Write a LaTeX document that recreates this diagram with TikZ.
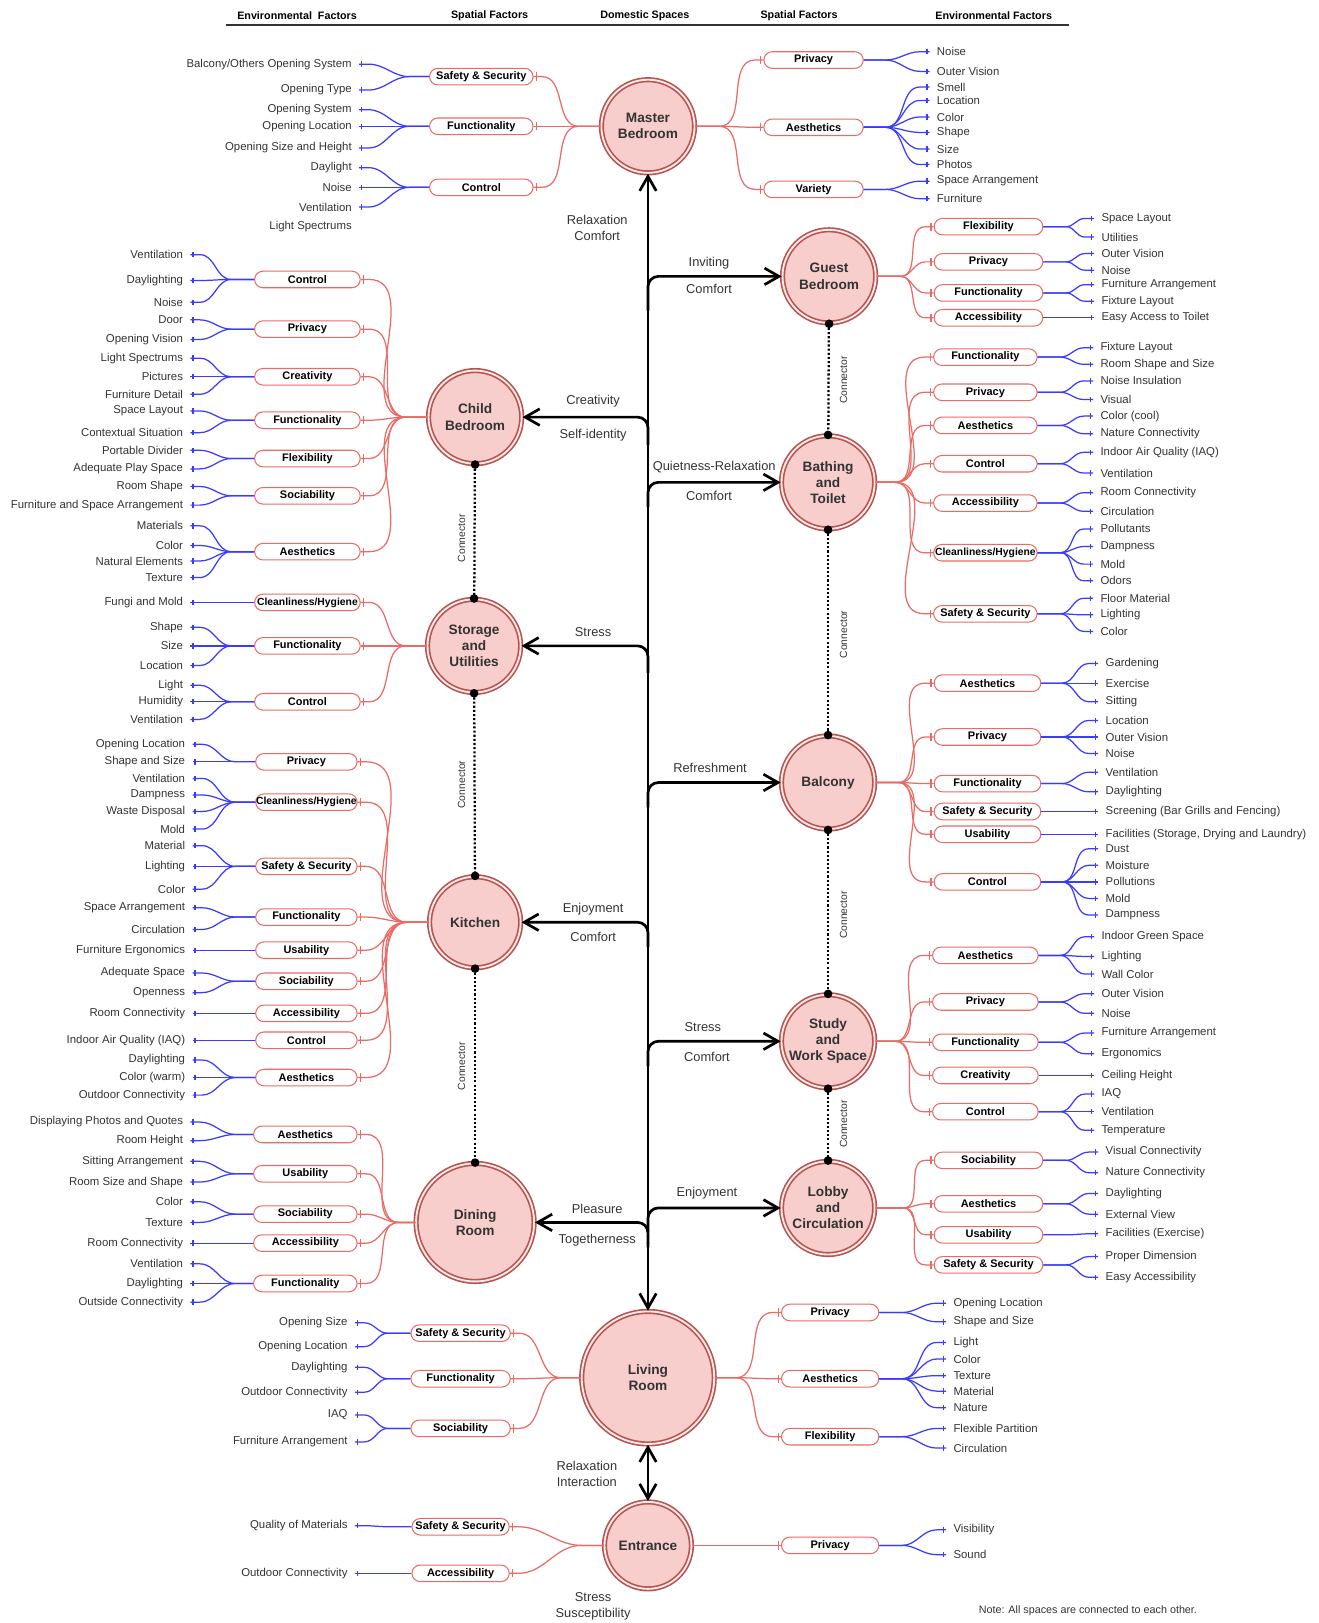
\documentclass[tikz,border=0pt]{standalone}
\usepackage{fontspec}
\setmainfont{Liberation Sans}
\usetikzlibrary{arrows.meta,calc,decorations.markings}
\definecolor{txt}{HTML}{333333}
\definecolor{redl}{HTML}{EA6B66}
\definecolor{bluel}{HTML}{3B3BFF}
\definecolor{cfill}{HTML}{F8CECC}
\definecolor{cdraw}{HTML}{B85450}
\tikzset{
  spc/.style={circle, fill=cfill, draw=cdraw, line width=0.8pt, double=cfill!40!white, double distance=0.9pt, inner sep=0pt, align=center, text=txt, font=\fontsize{6.6}{7.8}\selectfont\bfseries},
  sbox/.style={draw=redl, fill=white, rounded corners=4pt, minimum height=8pt, inner sep=0pt, line width=0.5pt, font=\fontsize{5.3}{6}\selectfont\bfseries, text=black},
  envL/.style={anchor=east, inner xsep=3.4pt, inner ysep=0.5pt, font=\fontsize{5.5}{6.5}\selectfont, text=txt},
  envR/.style={envL, anchor=west},
  bluc/.style={draw=bluel, line width=0.6pt, decoration={markings, mark=at position -1.2pt with {\draw[bluel,line width=0.6pt] (0pt,-1.3pt) -- (0pt,1.3pt);}}, postaction={decorate}},
  redc/.style={draw=redl, line width=0.6pt, decoration={markings, mark=at position -1.3pt with {\draw[redl,line width=0.6pt] (0pt,-2pt) -- (0pt,2pt);}}, postaction={decorate}},
  spn/.style={draw=black, line width=1.3pt},
  dotc/.style={draw=black, line width=1.1pt, dash pattern=on 1pt off 1pt},
  lbl/.style={font=\fontsize{6.2}{7.5}\selectfont, text=txt, inner sep=1pt, align=center},
  hdr/.style={font=\fontsize{5.2}{6}\selectfont\bfseries, text=black},
  cnl/.style={font=\fontsize{5}{6}\selectfont, text=txt, rotate=90, inner sep=0.5pt},
}
\newcommand\grpL[4]{\foreach \envy/\envtxt [count=\envk] in {#4}{\node[envL] (#1e\envk) at (#3,\envy) {\envtxt}; \draw[bluc] (#1.west) -- ++(-#2,0) to[out=180,in=0] ($(#1e\envk.east)+(9,0)$) -- (#1e\envk.east);}}
\newcommand\grpR[4]{\foreach \envy/\envtxt [count=\envk] in {#4}{\node[envR] (#1e\envk) at (#3,\envy) {\envtxt}; \draw[bluc] (#1.east) -- ++(#2,0) to[out=0,in=180] ($(#1e\envk.west)+(-9,0)$) -- (#1e\envk.west);}}
\newcommand\redL[3]{\foreach \bx in {#3}{\draw[redc] (#1.west) -- ++(-#2,0) to[out=180,in=0] ($(\bx.east)+(8,0)$) -- (\bx.east);}}
\newcommand\redR[3]{\foreach \bx in {#3}{\draw[redc] (#1.east) -- ++(#2,0) to[out=0,in=180] ($(\bx.west)+(-8,0)$) -- (\bx.west);}}
\begin{document}
\begin{tikzpicture}[x=0.5pt,y=-0.5pt,>={Straight Barb[length=7pt,width=8pt]}]
\useasboundingbox (0,0) rectangle (1274,1568);
% header
\node[hdr] (h1) at (287,15) {Environmental~ Factors};
\node[hdr] (h2) at (473,15) {Spatial Factors};
\node[hdr] (h3) at (623,15) {Domestic Spaces};
\node[hdr] (h4) at (772,15) {Spatial Factors};
\node[hdr] (h5) at (960,15) {Environmental Factors};
\coordinate (hl1) at (218,24); \coordinate (hl2) at (1033,24);
\draw[txt, line width=0.8pt] (hl1) -- (hl2);
% spaces
\node[spc, minimum size=45pt] (master) at (626,122) {Master\\Bedroom};
\node[spc, minimum size=45pt] (guest) at (801,267) {Guest\\Bedroom};
\node[spc, minimum size=45pt] (child) at (459,403) {Child\\Bedroom};
\node[spc, minimum size=45pt] (bath) at (800,466) {Bathing\\and\\Toilet};
\node[spc, minimum size=45pt] (stor) at (458,624) {Storage\\and\\Utilities};
\node[spc, minimum size=45pt] (balc) at (800,756) {Balcony};
\node[spc, minimum size=44pt] (kit) at (459,891) {Kitchen};
\node[spc, minimum size=45pt] (study) at (800,1006) {Study\\and\\Work Space};
\node[spc, minimum size=57pt] (dining) at (459,1181) {Dining\\Room};
\node[spc, minimum size=45pt] (lobby) at (800,1167) {Lobby\\and\\Circulation};
\node[spc, minimum size=64pt] (living) at (626,1331) {Living\\Room};
\node[spc, minimum size=42pt] (entr) at (626,1493) {Entrance};
% spine
\draw[spn,<->] (master) -- (living);
\draw[spn,<->] (living) -- (entr);
\coordinate (s1) at (626,300); \draw[spn,->,rounded corners=5pt] (s1) |- (guest);
\coordinate (s2) at (626,430); \draw[spn,->,rounded corners=5pt] (s2) |- (child);
\coordinate (s3) at (626,490); \draw[spn,->,rounded corners=5pt] (s3) |- (bath);
\coordinate (s4) at (626,650); \draw[spn,->,rounded corners=5pt] (s4) |- (stor);
\coordinate (s5) at (626,780); \draw[spn,->,rounded corners=5pt] (s5) |- (balc);
\coordinate (s6) at (626,915); \draw[spn,->,rounded corners=5pt] (s6) |- (kit);
\coordinate (s7) at (626,1030); \draw[spn,->,rounded corners=5pt] (s7) |- (study);
\coordinate (s8) at (626,1190); \draw[spn,->,rounded corners=5pt] (s8) |- (lobby);
\coordinate (s9) at (626,1205); \draw[spn,->,rounded corners=5pt] (s9) |- (dining);
% dotted connectors
\draw[dotc] (guest) -- (bath); \fill (guest.south) circle (2.1pt); \fill (bath.north) circle (2.1pt);
\draw[dotc] (child) -- (stor); \fill (child.south) circle (2.1pt); \fill (stor.north) circle (2.1pt);
\draw[dotc] (stor) -- (kit); \fill (stor.south) circle (2.1pt); \fill (kit.north) circle (2.1pt);
\draw[dotc] (kit) -- (dining); \fill (kit.south) circle (2.1pt); \fill (dining.north) circle (2.1pt);
\draw[dotc] (bath) -- (balc); \fill (bath.south) circle (2.1pt); \fill (balc.north) circle (2.1pt);
\draw[dotc] (balc) -- (study); \fill (balc.south) circle (2.1pt); \fill (study.north) circle (2.1pt);
\draw[dotc] (study) -- (lobby); \fill (study.south) circle (2.1pt); \fill (lobby.north) circle (2.1pt);
\node[cnl] (c1) at (815,367) {Connector};
\node[cnl] (c2) at (446,520) {Connector};
\node[cnl] (c3) at (446,758) {Connector};
\node[cnl] (c4) at (446,1030) {Connector};
\node[cnl] (c5) at (815,613) {Connector};
\node[cnl] (c6) at (815,884) {Connector};
\node[cnl] (c7) at (815,1086) {Connector};
% branch labels
\node[lbl] (t1) at (577,220) {Relaxation\\Comfort};
\node[lbl] (t2) at (685,254) {Inviting};
\node[lbl] (t3) at (685,279) {Comfort};
\node[lbl] (t4) at (573,388) {Creativity};
\node[lbl] (t5) at (573,420) {Self-identity};
\node[lbl] (t6) at (690,451) {Quietness-Relaxation};
\node[lbl] (t7) at (685,479) {Comfort};
\node[lbl] (t8) at (573,611) {Stress};
\node[lbl] (t9) at (686,742) {Refreshment};
\node[lbl] (t10) at (573,878) {Enjoyment};
\node[lbl] (t11) at (573,905) {Comfort};
\node[lbl] (t12) at (679,992) {Stress};
\node[lbl] (t13) at (683,1021) {Comfort};
\node[lbl] (t14) at (577,1168) {Pleasure};
\node[lbl] (t15) at (577,1198) {Togetherness};
\node[lbl] (t16) at (683,1153) {Enjoyment};
\node[lbl] (t17) at (567,1424) {Relaxation\\Interaction};
\node[lbl] (t18) at (573,1552) {Stress\\Susceptibility};
\node[font=\fontsize{5.2}{6}\selectfont, text=txt] (note) at (1051,1556) {Note: All spaces are connected to each other.};
% ===== Master bedroom
\node[sbox, minimum width=50pt] (mL1) at (465,74) {Safety \& Security};
\node[sbox, minimum width=50pt] (mL2) at (465,122) {Functionality};
\node[sbox, minimum width=50pt] (mL3) at (465,181) {Control};
\grpL{mL1}{19}{347}{62/{Balcony/Others Opening System},87/Opening Type}
\grpL{mL2}{19}{347}{106/Opening System,122/Opening Location,143/Opening Size and Height}
\grpL{mL3}{19}{347}{162/Daylight,181/Noise,200/Ventilation}
\node[envL] (mLx) at (347,219) {Light Spectrums};
\redL{master}{21}{mL1,mL2,mL3}
\node[sbox, minimum width=48pt] (mR1) at (786,58) {Privacy};
\node[sbox, minimum width=48pt] (mR2) at (786,123) {Aesthetics};
\node[sbox, minimum width=48pt] (mR3) at (786,183) {Variety};
\grpR{mR1}{21}{898}{50/Noise,69/Outer Vision}
\grpR{mR2}{21}{898}{84/Smell,97/Location,113/Color,128/Shape,144/Size,159/Photos}
\grpR{mR3}{21}{898}{175/Space Arrangement,192/Furniture}
\redR{master}{23}{mR1,mR2,mR3}
% ===== Guest
\node[sbox, minimum width=52.5pt] (gR1) at (955,219) {Flexibility};
\node[sbox, minimum width=52.5pt] (gR2) at (955,253) {Privacy};
\node[sbox, minimum width=52.5pt] (gR3) at (955,283) {Functionality};
\node[sbox, minimum width=52.5pt] (gR4) at (955,307) {Accessibility};
\grpR{gR1}{22}{1057}{211/Space Layout,229/Utilities}
\grpR{gR2}{22}{1057}{245/Outer Vision,261/Noise}
\grpR{gR3}{22}{1057}{275/Furniture Arrangement,291/Fixture Layout}
\grpR{gR4}{22}{1057}{307/Easy Access to Toilet}
\redR{guest}{23}{gR1,gR2,gR3,gR4}
% ===== Bathing
\node[sbox, minimum width=50pt] (bR1) at (952,345) {Functionality};
\node[sbox, minimum width=50pt] (bR2) at (952,379) {Privacy};
\node[sbox, minimum width=50pt] (bR3) at (952,411) {Aesthetics};
\node[sbox, minimum width=50pt] (bR4) at (952,448) {Control};
\node[sbox, minimum width=50pt] (bR5) at (952,486) {Accessibility};
\node[sbox, minimum width=50pt, font=\fontsize{5}{6}\selectfont\bfseries] (bR6) at (952,534) {Cleanliness/Hygiene};
\node[sbox, minimum width=50pt] (bR7) at (952,593) {Safety \& Security};
\grpR{bR1}{22}{1056}{336/Fixture Layout,352/Room Shape and Size}
\grpR{bR2}{22}{1056}{368/Noise Insulation,386/Visual}
\grpR{bR3}{22}{1056}{402/Color (cool),419/Nature Connectivity}
\grpR{bR4}{22}{1056}{437/Indoor Air Quality (IAQ),457/Ventilation}
\grpR{bR5}{22}{1056}{476/Room Connectivity,494/Circulation}
\grpR{bR6}{22}{1056}{511/Pollutants,528/Dampness,545/Mold,561/Odors}
\grpR{bR7}{22}{1056}{578/Floor Material,594/Lighting,610/Color}
\redR{bath}{19}{bR1,bR2,bR3,bR4,bR5,bR6,bR7}
% ===== Balcony
\node[sbox, minimum width=51.5pt] (baR1) at (954,660) {Aesthetics};
\node[sbox, minimum width=51.5pt] (baR2) at (954,712) {Privacy};
\node[sbox, minimum width=51.5pt] (baR3) at (954,757) {Functionality};
\node[sbox, minimum width=51.5pt] (baR4) at (954,784) {Safety \& Security};
\node[sbox, minimum width=51.5pt] (baR5) at (954,806) {Usability};
\node[sbox, minimum width=51.5pt] (baR6) at (954,852) {Control};
\grpR{baR1}{20}{1061}{641/Gardening,660/Exercise,678/Sitting}
\grpR{baR2}{20}{1061}{696/Location,712/Outer Vision,728/Noise}
\grpR{baR3}{20}{1061}{746/Ventilation,765/Daylighting}
\grpR{baR4}{20}{1061}{784/Screening (Bar Grills and Fencing)}
\grpR{baR5}{20}{1061}{806/{Facilities (Storage, Drying and Laundry)}}
\grpR{baR6}{20}{1061}{820/Dust,836/Moisture,852/Pollutions,868/Mold,884/Dampness}
\redR{balc}{22}{baR1,baR2,baR3,baR4,baR5,baR6}
% ===== Study
\node[sbox, minimum width=51pt] (sR1) at (952,923) {Aesthetics};
\node[sbox, minimum width=51pt] (sR2) at (952,968) {Privacy};
\node[sbox, minimum width=51pt] (sR3) at (952,1007) {Functionality};
\node[sbox, minimum width=51pt] (sR4) at (952,1039) {Creativity};
\node[sbox, minimum width=51pt] (sR5) at (952,1074) {Control};
\grpR{sR1}{21}{1057}{905/Indoor Green Space,924/Lighting,941/Wall Color}
\grpR{sR2}{21}{1057}{960/Outer Vision,979/Noise}
\grpR{sR3}{21}{1057}{998/Furniture Arrangement,1018/Ergonomics}
\grpR{sR4}{21}{1057}{1039/Ceiling Height}
\grpR{sR5}{21}{1057}{1057/IAQ,1074/Ventilation,1092/Temperature}
\redR{study}{19}{sR1,sR2,sR3,sR4,sR5}
% ===== Lobby
\node[sbox, minimum width=52.5pt] (lR1) at (955,1121) {Sociability};
\node[sbox, minimum width=52.5pt] (lR2) at (955,1163) {Aesthetics};
\node[sbox, minimum width=52.5pt] (lR3) at (955,1193) {Usability};
\node[sbox, minimum width=52.5pt] (lR4) at (955,1222) {Safety \& Security};
\grpR{lR1}{22}{1061}{1113/Visual Connectivity,1133/Nature Connectivity}
\grpR{lR2}{22}{1061}{1153/Daylighting,1173/External View}
\grpR{lR3}{22}{1061}{1192/Facilities (Exercise)}
\grpR{lR4}{22}{1061}{1214/Proper Dimension,1234/Easy Accessibility}
\redR{lobby}{27}{lR1,lR2,lR3,lR4}
% ===== Living
\node[sbox, minimum width=47pt] (liR1) at (802,1268) {Privacy};
\node[sbox, minimum width=47pt] (liR2) at (802,1332) {Aesthetics};
\node[sbox, minimum width=47pt] (liR3) at (802,1388) {Flexibility};
\grpR{liR1}{22}{914}{1259/Opening Location,1277/Shape and Size}
\grpR{liR2}{22}{914}{1297/Light,1313/Color,1329/Texture,1344/Material,1360/Nature}
\grpR{liR3}{22}{914}{1380/Flexible Partition,1399/Circulation}
\redR{living}{20}{liR1,liR2,liR3}
\node[sbox, minimum width=48pt] (liL1) at (445,1288) {Safety \& Security};
\node[sbox, minimum width=48pt] (liL2) at (445,1332) {Functionality};
\node[sbox, minimum width=48pt] (liL3) at (445,1380) {Sociability};
\grpL{liL1}{22}{343}{1278/Opening Size,1301/Opening Location}
\grpL{liL2}{22}{343}{1321/Daylighting,1345/Outdoor Connectivity}
\grpL{liL3}{22}{343}{1367/IAQ,1393/Furniture Arrangement}
\redL{living}{19}{liL1,liL2,liL3}
% ===== Entrance
\node[sbox, minimum width=47pt] (eR1) at (802,1493) {Privacy};
\grpR{eR1}{22}{914}{1478/Visibility,1502/Sound}
\redR{entr}{20}{eR1}
\node[sbox, minimum width=47pt] (eL1) at (445,1475) {Safety \& Security};
\node[sbox, minimum width=47pt] (eL2) at (445,1520) {Accessibility};
\grpL{eL1}{22}{343}{1474/Quality of Materials}
\grpL{eL2}{22}{343}{1520/Outdoor Connectivity}
\redL{entr}{21}{eL1,eL2}
% ===== Child
\node[sbox, minimum width=51pt] (cL1) at (297,270) {Control};
\node[sbox, minimum width=51pt] (cL2) at (297,318) {Privacy};
\node[sbox, minimum width=51pt] (cL3) at (297,364) {Creativity};
\node[sbox, minimum width=51pt] (cL4) at (297,406) {Functionality};
\node[sbox, minimum width=51pt] (cL5) at (297,443) {Flexibility};
\node[sbox, minimum width=51pt] (cL6) at (297,479) {Sociability};
\node[sbox, minimum width=51pt] (cL7) at (297,533) {Aesthetics};
\grpL{cL1}{22}{184}{246/Ventilation,271/Daylighting,292/Noise}
\grpL{cL2}{22}{184}{309/Door,328/Opening Vision}
\grpL{cL3}{22}{184}{346/Light Spectrums,364/Pictures,381/Furniture Detail}
\grpL{cL4}{22}{184}{397/Space Layout,418/Contextual Situation}
\grpL{cL5}{22}{184}{435/Portable Divider,453/Adequate Play Space}
\grpL{cL6}{22}{184}{470/Room Shape,488/Furniture and Space Arrangement}
\grpL{cL7}{22}{184}{508/Materials,527/Color,542/Natural Elements,558/Texture}
\redL{child}{21}{cL1,cL2,cL3,cL4,cL5,cL6,cL7}
% ===== Storage
\node[sbox, minimum width=51pt, font=\fontsize{5}{6}\selectfont\bfseries] (stL1) at (297,582) {Cleanliness/Hygiene};
\node[sbox, minimum width=51pt] (stL2) at (297,624) {Functionality};
\node[sbox, minimum width=51pt] (stL3) at (297,678) {Control};
\grpL{stL1}{22}{184}{582/Fungi and Mold}
\grpL{stL2}{22}{184}{606/Shape,624/Size,643/Location}
\grpL{stL3}{22}{184}{662/Light,678/Humidity,695/Ventilation}
\redL{stor}{20}{stL1,stL2,stL3}
% ===== Kitchen
\node[sbox, minimum width=49pt] (kL1) at (296,736) {Privacy};
\node[sbox, minimum width=49pt, font=\fontsize{5}{6}\selectfont\bfseries] (kL2) at (296,775) {Cleanliness/Hygiene};
\node[sbox, minimum width=49pt] (kL3) at (296,837) {Safety \& Security};
\node[sbox, minimum width=49pt] (kL4) at (296,886) {Functionality};
\node[sbox, minimum width=49pt] (kL5) at (296,918) {Usability};
\node[sbox, minimum width=49pt] (kL6) at (296,948) {Sociability};
\node[sbox, minimum width=49pt] (kL7) at (296,979) {Accessibility};
\node[sbox, minimum width=49pt] (kL8) at (296,1005) {Control};
\node[sbox, minimum width=49pt] (kL9) at (296,1041) {Aesthetics};
\grpL{kL1}{19}{186}{719/Opening Location,736/Shape and Size}
\grpL{kL2}{19}{186}{752/Ventilation,768/Dampness,784/Waste Disposal,801/Mold}
\grpL{kL3}{19}{186}{817/Material,837/Lighting,859/Color}
\grpL{kL4}{19}{186}{877/Space Arrangement,898/Circulation}
\grpL{kL5}{19}{186}{918/Furniture Ergonomics}
\grpL{kL6}{19}{186}{940/Adequate Space,959/Openness}
\grpL{kL7}{19}{186}{979/Room Connectivity}
\grpL{kL8}{19}{186}{1005/Indoor Air Quality (IAQ)}
\grpL{kL9}{19}{186}{1024/Daylighting,1041/Color (warm),1058/Outdoor Connectivity}
\redL{kit}{21}{kL1,kL2,kL3,kL4,kL5,kL6,kL7,kL8,kL9}
% ===== Dining
\node[sbox, minimum width=50pt] (dL1) at (295,1096) {Aesthetics};
\node[sbox, minimum width=50pt] (dL2) at (295,1134) {Usability};
\node[sbox, minimum width=50pt] (dL3) at (295,1173) {Sociability};
\node[sbox, minimum width=50pt] (dL4) at (295,1201) {Accessibility};
\node[sbox, minimum width=50pt] (dL5) at (295,1240) {Functionality};
\grpL{dL1}{17}{184}{1084/Displaying Photos and Quotes,1102/Room Height}
\grpL{dL2}{17}{184}{1122/Sitting Arrangement,1142/Room Size and Shape}
\grpL{dL3}{17}{184}{1161/Color,1181/Texture}
\grpL{dL4}{17}{184}{1201/Room Connectivity}
\grpL{dL5}{17}{184}{1221/Ventilation,1240/Daylighting,1258/Outside Connectivity}
\redL{dining}{16}{dL1,dL2,dL3,dL4,dL5}
\end{tikzpicture}
\end{document}
